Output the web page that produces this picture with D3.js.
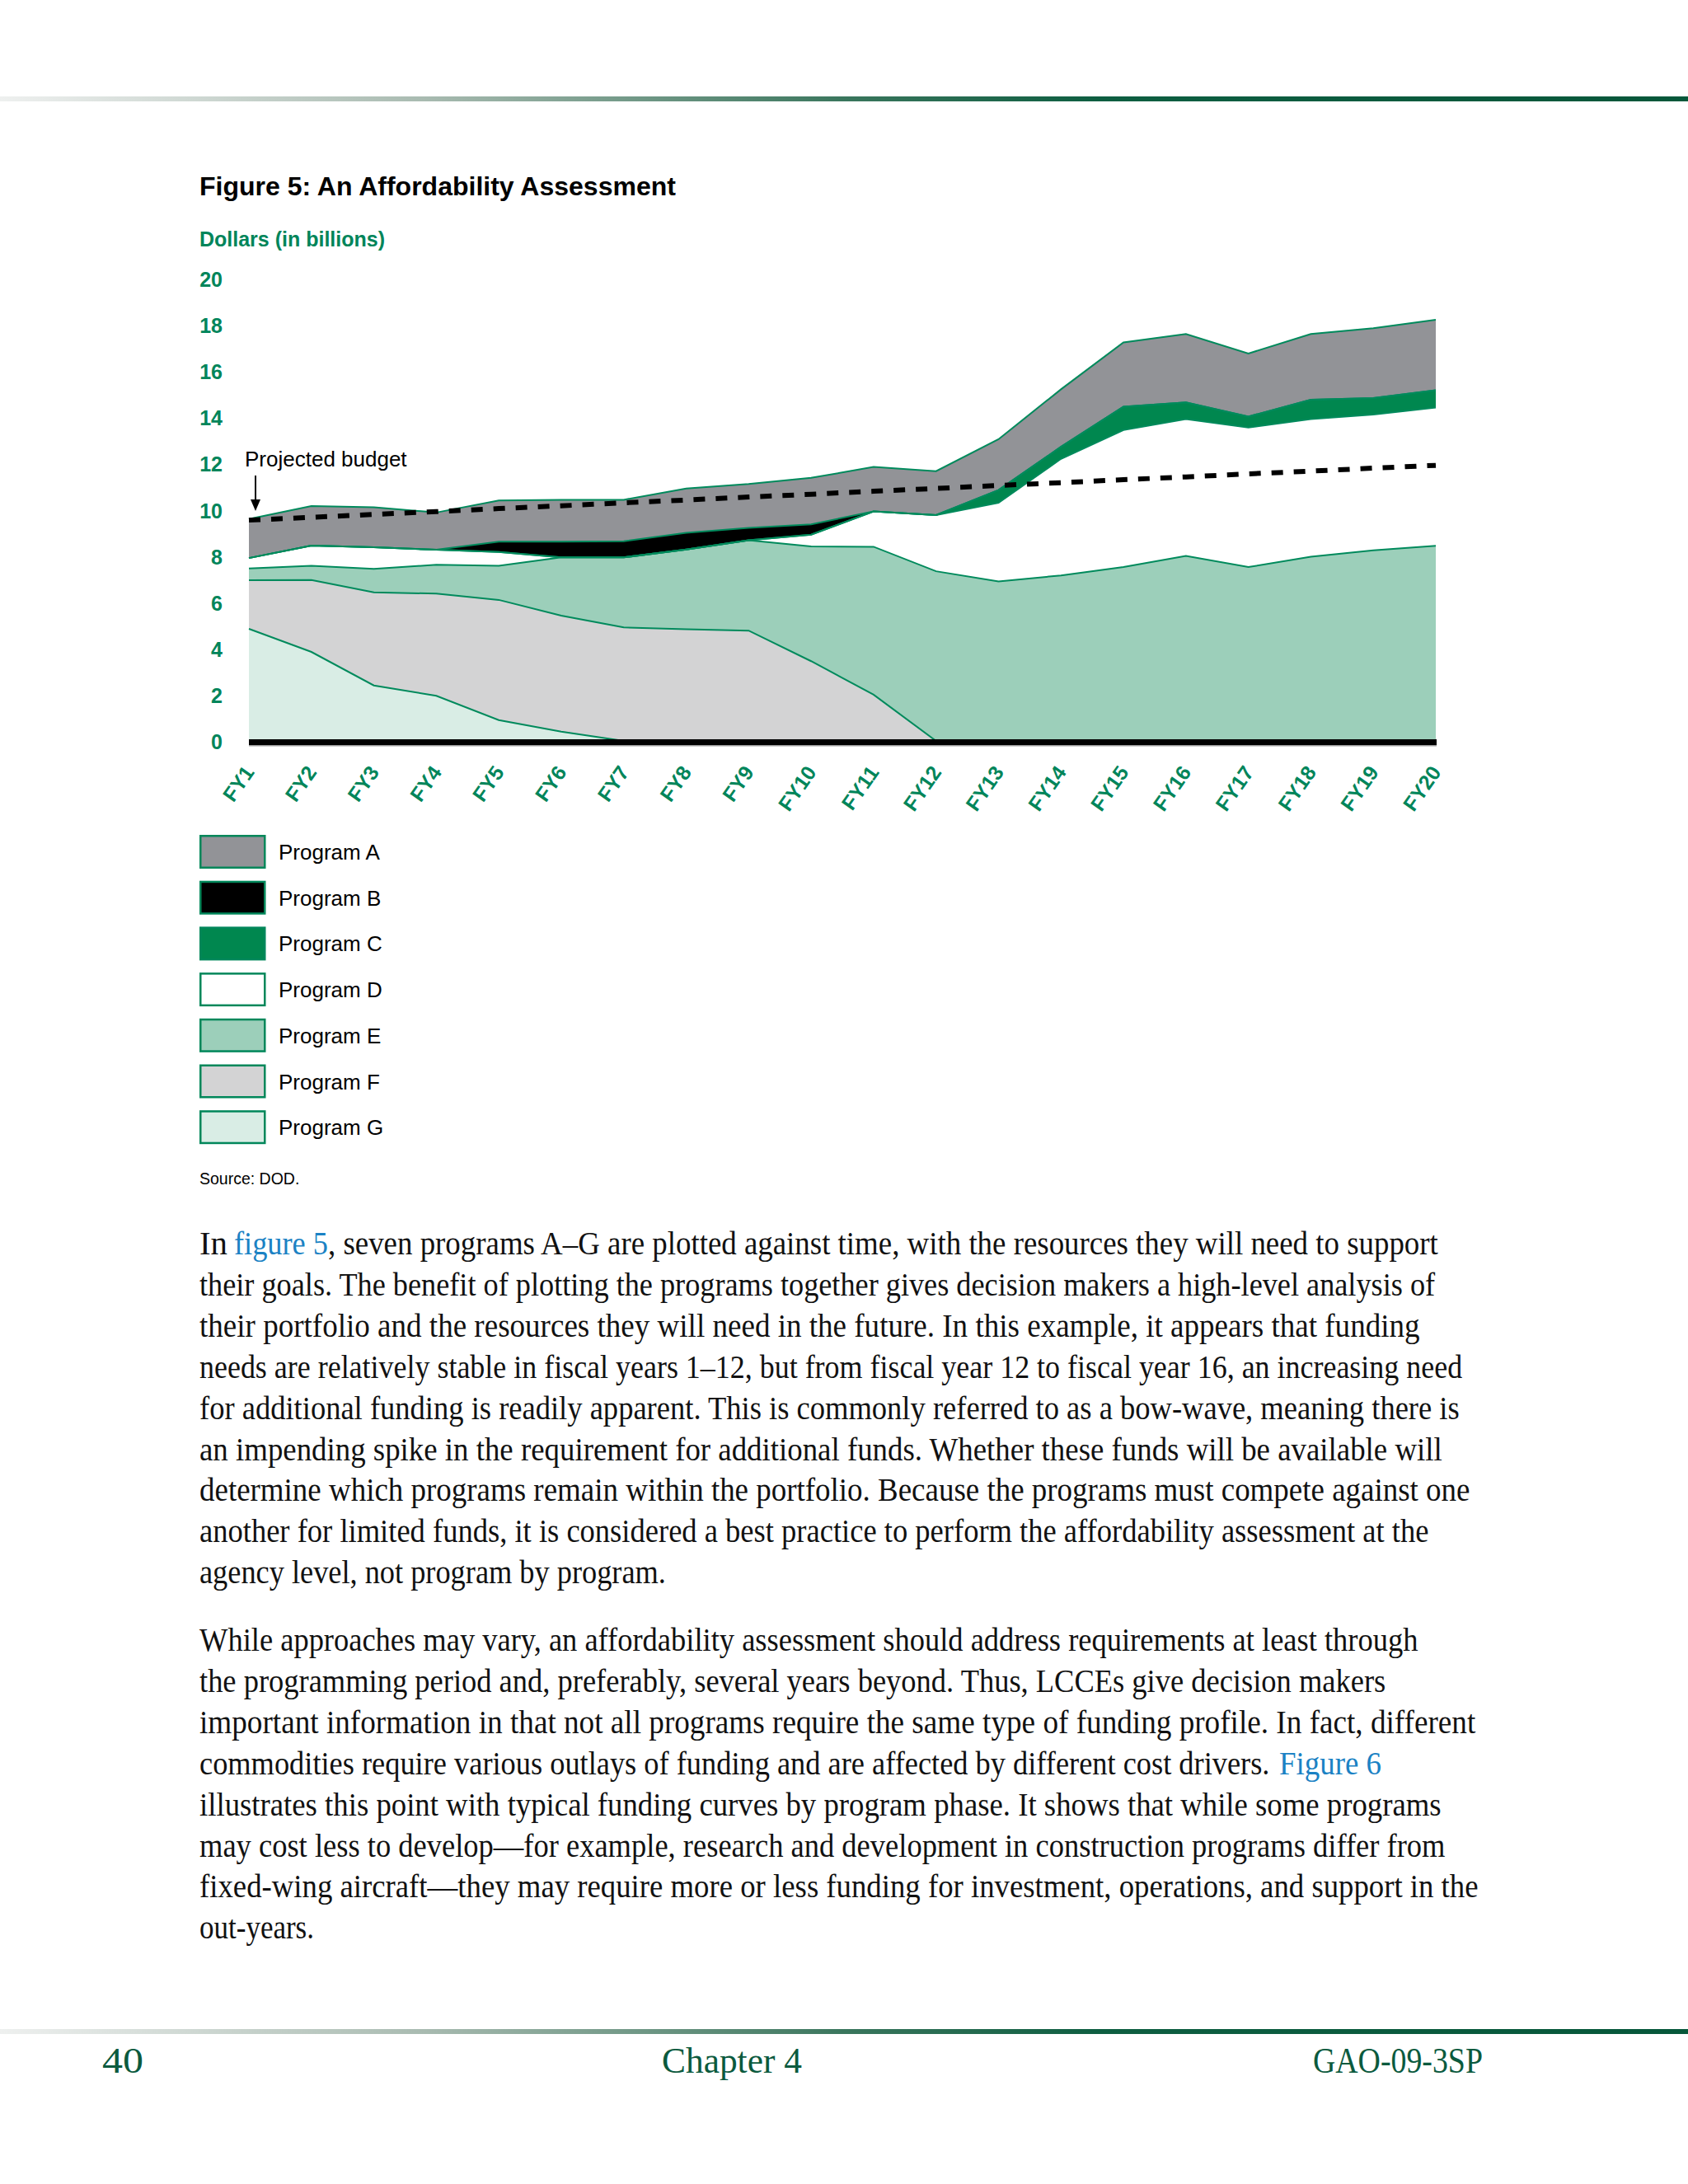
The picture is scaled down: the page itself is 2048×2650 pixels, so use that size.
<!DOCTYPE html>
<html>
<head>
<meta charset="utf-8">
<script src="https://cdn.jsdelivr.net/npm/d3@7"></script>
<style>
  body { margin: 0; background: #fff; }
  svg { display: block; }
</style>
</head>
<body>
<div id="page"></div>
<script>
// values (billions of dollars)
const fiscalYears = ['FY1', 'FY2', 'FY3', 'FY4', 'FY5', 'FY6', 'FY7', 'FY8', 'FY9', 'FY10',
  'FY11', 'FY12', 'FY13', 'FY14', 'FY15', 'FY16', 'FY17', 'FY18', 'FY19', 'FY20'];

const programA = [1.69, 1.71, 1.73, 1.61, 1.78, 1.81, 1.79, 1.92, 1.89, 2.01, 1.92, 1.90, 2.20, 2.49, 2.78, 2.96, 2.73, 2.84, 3.02, 3.05];
const programB = [0, 0, 0, 0, 0.45, 0.68, 0.70, 0.72, 0.54, 0.45, 0, 0, 0, 0, 0, 0, 0, 0, 0, 0];
const programC = [0, 0, 0, 0, 0, 0, 0, 0, 0, 0, 0, 0, 0.55, 0.52, 1.01, 0.72, 0.47, 0.84, 0.71, 0.75];
const programD = [0.45, 0.87, 0.94, 0.65, 0.59, 0, 0, 0, 0, 0.51, 1.53, 2.43, 3.40, 5.04, 5.93, 5.92, 6.04, 5.95, 5.88, 5.98];
const programE = [0.51, 0.62, 1.01, 1.25, 1.48, 2.52, 3.03, 3.45, 3.91, 4.96, 6.40, 7.34, 6.90, 7.16, 7.52, 8.00, 7.52, 7.97, 8.24, 8.44];
const programF = [2.10, 3.11, 4.03, 4.42, 5.20, 5.02, 4.91, 4.83, 4.77, 3.45, 2.00, 0, 0, 0, 0, 0, 0, 0, 0, 0];
const programG = [4.85, 3.85, 2.40, 1.95, 0.90, 0.40, 0, 0, 0, 0, 0, 0, 0, 0, 0, 0, 0, 0, 0, 0];
const projectedBudget = [9.55, 9.67, 9.80, 9.92, 10.05, 10.17, 10.30, 10.42, 10.55, 10.67,
  10.80, 10.92, 11.05, 11.17, 11.30, 11.42, 11.55, 11.67, 11.80, 11.92];

const yTicks = [0, 2, 4, 6, 8, 10, 12, 14, 16, 18, 20];
const programNames = ['Program A', 'Program B', 'Program C', 'Program D', 'Program E', 'Program F', 'Program G'];

// each segment: [text, startX, endX, isLink]
const paragraph1 = [
  [['In', 242, 276], ['figure 5', 284, 398, true], [', seven programs A\u2013G are plotted against time, with the resources they will need to support', 398, 1745]],
  [['their goals. The benefit of plotting the programs together gives decision makers a high-level analysis of', 242, 1742]],
  [['their portfolio and the resources they will need in the future. In this example, it appears that funding', 242, 1723]],
  [['needs are relatively stable in fiscal years 1\u201312, but from fiscal year 12 to fiscal year 16, an increasing need', 242, 1775]],
  [['for additional funding is readily apparent. This is commonly referred to as a bow-wave, meaning there is', 242, 1771]],
  [['an impending spike in the requirement for additional funds. Whether these funds will be available will', 242, 1750]],
  [['determine which programs remain within the portfolio. Because the programs must compete against one', 242, 1784]],
  [['another for limited funds, it is considered a best practice to perform the affordability assessment at the', 242, 1734]],
  [['agency level, not program by program.', 242, 808]]
];

const paragraph2 = [
  [['While approaches may vary, an affordability assessment should address requirements at least through', 242, 1721]],
  [['the programming period and, preferably, several years beyond. Thus, LCCEs give decision makers', 242, 1682]],
  [['important information in that not all programs require the same type of funding profile. In fact, different', 242, 1791]],
  [['commodities require various outlays of funding and are affected by different cost drivers.', 242, 1541], ['Figure 6', 1552, 1676, true]],
  [['illustrates this point with typical funding curves by program phase. It shows that while some programs', 242, 1749]],
  [['may cost less to develop\u2014for example, research and development in construction programs differ from', 242, 1754]],
  [['fixed-wing aircraft\u2014they may require more or less funding for investment, operations, and support in the', 242, 1794]],
  [['out-years.', 242, 381]]
];

const green = '#00855a';
const programColor = d3.scaleOrdinal()
  .domain(['A', 'B', 'C', 'D', 'E', 'F', 'G'])
  .range(['#929397', '#000000', '#00874f', '#ffffff', '#9ccfba', '#d3d3d4', '#d9ede5']);

const svg = d3.select('#page').append('svg')
  .attr('width', 2048)
  .attr('height', 2650)
  .style('font-family', '"Liberation Sans", Arial, sans-serif');

const defs = svg.append('defs');
const grad = defs.append('linearGradient')
  .attr('id', 'rule')
  .attr('x1', 0).attr('x2', 1).attr('y1', 0).attr('y2', 0);
[[0, '#eef0ef'], [0.25, '#a9bbb1'], [0.5, '#3a765d'], [0.65, '#0e5e41'], [1, '#06573a']]
  .forEach(([o, c]) => grad.append('stop').attr('offset', o).attr('stop-color', c));

// page rules
svg.append('rect').attr('x', 0).attr('y', 117).attr('width', 2048).attr('height', 6).attr('fill', 'url(#rule)');
svg.append('rect').attr('x', 0).attr('y', 2462).attr('width', 2048).attr('height', 6).attr('fill', 'url(#rule)');

// titles
svg.append('text')
  .attr('x', 242).attr('y', 237)
  .attr('font-size', 32).attr('font-weight', 'bold')
  .attr('fill', '#000')
  .text('Figure 5: An Affordability Assessment');

svg.append('text')
  .attr('x', 242).attr('y', 299)
  .attr('font-size', 25).attr('font-weight', 'bold')
  .attr('fill', green)
  .text('Dollars (in billions)');

// chart
const x = d3.scalePoint().domain(fiscalYears).range([302, 1742]);
const y = d3.scaleLinear().domain([0, 20]).range([899, 338]);

const table = fiscalYears.map((fy, i) => ({
  fy,
  A: programA[i], B: programB[i], C: programC[i], D: programD[i],
  E: programE[i], F: programF[i], G: programG[i]
}));

const stacked = d3.stack().keys(['G', 'F', 'E', 'D', 'C', 'B', 'A'])(table);

const area = d3.area()
  .x(d => x(d.data.fy))
  .y0(d => y(d[0]))
  .y1(d => y(d[1]));

const topLine = d3.line()
  .x(d => x(d.data.fy))
  .y(d => y(d[1]));

const chart = svg.append('g');

chart.selectAll('path.layer')
  .data(stacked)
  .enter()
  .append('path')
  .attr('class', 'layer')
  .attr('d', area)
  .attr('fill', d => programColor(d.key));

chart.selectAll('path.edge')
  .data(stacked)
  .enter()
  .append('path')
  .attr('class', 'edge')
  .attr('d', topLine)
  .attr('fill', 'none')
  .attr('stroke', '#008a5c')
  .attr('stroke-width', 2);

// budget
chart.append('path')
  .datum(projectedBudget)
  .attr('d', d3.line().x((d, i) => x(fiscalYears[i])).y(d => y(d)))
  .attr('fill', 'none')
  .attr('stroke', '#000')
  .attr('stroke-width', 6)
  .attr('stroke-dasharray', '14,13');

// zero bar
chart.append('rect')
  .attr('x', x('FY1')).attr('y', y(0) - 2)
  .attr('width', x('FY20') - x('FY1') + 1).attr('height', 7)
  .attr('fill', '#000');
chart.append('rect')
  .attr('x', x('FY1')).attr('y', y(0) + 5)
  .attr('width', x('FY20') - x('FY1') + 1).attr('height', 1.5)
  .attr('fill', '#9a9a9a');

// y axis
const yAxisGroup = svg.append('g')
  .attr('transform', `translate(${x('FY1')}, 1.5)`)
  .call(d3.axisLeft(y).tickValues(yTicks).tickSize(0).tickPadding(32));
yAxisGroup.select('.domain').remove();
yAxisGroup.selectAll('text')
  .attr('font-size', 25)
  .attr('font-weight', 'bold')
  .attr('font-family', '"Liberation Sans", Arial, sans-serif')
  .attr('fill', green);

// x axis
const xAxisGroup = svg.append('g')
  .attr('transform', `translate(0, ${y(0)})`)
  .call(d3.axisBottom(x).tickSize(0));
xAxisGroup.select('.domain').remove();
xAxisGroup.selectAll('text')
  .attr('y', 0).attr('dy', 0).attr('x', 0)
  .attr('text-anchor', 'end')
  .attr('transform', 'translate(7, 38) rotate(-55)')
  .attr('font-size', 25)
  .attr('font-weight', 'bold')
  .attr('font-family', '"Liberation Sans", Arial, sans-serif')
  .attr('fill', green);

// projected budget label
svg.append('text')
  .attr('x', 297).attr('y', 566)
  .attr('font-size', 26)
  .attr('fill', '#000')
  .text('Projected budget');
svg.append('line')
  .attr('x1', x('FY1') + 8).attr('x2', x('FY1') + 8)
  .attr('y1', 577).attr('y2', 608)
  .attr('stroke', '#000').attr('stroke-width', 2);
svg.append('path')
  .attr('d', `M${x('FY1') + 2},606 L${x('FY1') + 14},606 L${x('FY1') + 8},620 Z`)
  .attr('fill', '#000');

// legend
const legend = svg.append('g').attr('transform', 'translate(242, 1013)');
programNames.forEach((name, i) => {
  const row = legend.append('g').attr('transform', `translate(0, ${i * 55.7})`);
  row.append('rect')
    .attr('x', 1.25).attr('y', 1.25)
    .attr('width', 78).attr('height', 38.5)
    .attr('fill', programColor(name.slice(-1)))
    .attr('stroke', '#00875a')
    .attr('stroke-width', 2.5);
  row.append('text')
    .attr('x', 96).attr('y', 30)
    .attr('font-size', 26)
    .attr('fill', '#000')
    .text(name);
});

svg.append('text')
  .attr('x', 242).attr('y', 1437)
  .attr('font-size', 19.5)
  .attr('fill', '#000')
  .text('Source: DOD.');

// text squeezed horizontally to the span it takes in the reference
function fitText(str, x0, x1, yPos, size, color) {
  const t = svg.append('text')
    .attr('x', 0).attr('y', 0)
    .attr('font-family', '"Liberation Serif", "Times New Roman", serif')
    .attr('font-size', size)
    .attr('fill', color)
    .text(str);
  const w = t.node().getComputedTextLength();
  t.attr('transform', `translate(${x0}, ${yPos}) scale(${(x1 - x0) / w}, 1)`);
}

function writeParagraph(lines, top) {
  lines.forEach((segments, i) => {
    segments.forEach(([str, x0, x1, link]) => {
      fitText(str, x0, x1, top + i * 49.9, 40, link ? '#1b82c4' : '#111');
    });
  });
}
writeParagraph(paragraph1, 1522);
writeParagraph(paragraph2, 2003);

// footer
const footer = [['40', 124, 174], ['Chapter 4', 803, 973], ['GAO-09-3SP', 1593, 1799]];
footer.forEach(([str, x0, x1]) => fitText(str, x0, x1, 2515, 44, '#0b5a3e'));
</script>
</body>
</html>
